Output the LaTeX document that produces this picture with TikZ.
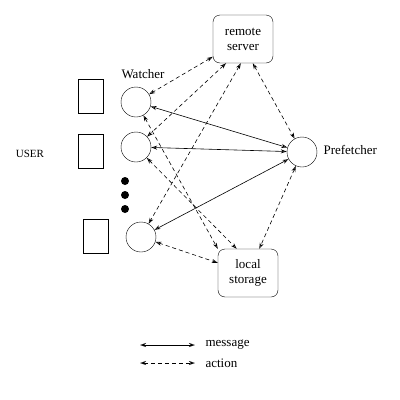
\documentclass[tikz,border=0pt]{standalone}
\usepackage{fontspec}
\setmainfont{Liberation Serif}
\usetikzlibrary{arrows.meta}

\begin{document}
\begin{tikzpicture}[x=1pt,y=-1pt,
        font=\fontsize{13}{15}\selectfont,
        msg/.style={{Stealth[length=6pt,width=4pt,open]}-{Stealth[length=6pt,width=4pt,open]}, semithick},
        act/.style={msg, dash pattern=on 4pt off 3pt},
        store/.style={draw, rounded corners=7pt, minimum width=60pt, minimum height=48pt,
                      align=center, inner sep=0pt},
        proc/.style={draw, circle, minimum size=30pt, inner sep=0pt},
        term/.style={draw, minimum width=25pt, minimum height=34pt, inner sep=0pt},
        bullet/.style={fill, circle, minimum size=8pt, inner sep=0pt},
        note/.style={anchor=west}
    ]
        \useasboundingbox (0,0) rectangle (400,400);

        \node[store] (remote) at (243,39) {remote\\server};
        \node[store] (local) at (248,273) {local\\storage};

        \node[proc] (watchA) at (136,102) {};
        \node[proc] (watchB) at (136,147) {};
        \node[proc] (watchC) at (141,237) {};
        \node[proc] (prefetch) at (302,152) {};

        \node[term] (userA) at (90.5,96) {};
        \node[term] (userB) at (90.5,151.5) {};
        \node[term] (userC) at (95.5,236) {};

        \node[bullet] (dotA) at (125,181) {};
        \node[bullet] (dotB) at (125,195) {};
        \node[bullet] (dotC) at (125,209) {};

        \node (watchlbl) at (143,74) {Watcher};
        \node[note] (prefetchlbl) at (320,150) {Prefetcher};
        \node[font=\fontsize{11}{13}\selectfont] (userlbl) at (30,154) {USER};

        % messages
        \draw[msg] (watchA) -- (prefetch);
        \draw[msg] (watchB) -- (prefetch);
        \draw[msg] (watchC) -- (prefetch);

        % actions
        \draw[act] (remote) -- (watchA);
        \draw[act] (remote.-125) -- (watchB);
        \draw[act] (remote.-95) -- (watchC);
        \draw[act] (remote.-68) -- (prefetch);
        \draw[act] (watchA) -- (local.north west);
        \draw[act] (watchB) -- (local.115);
        \draw[act] (watchC) -- (local);
        \draw[act] (prefetch) -- (local.65);

        % legend
        \coordinate (msgL) at (140,345);
        \coordinate (msgR) at (195,345);
        \coordinate (actL) at (140,363);
        \coordinate (actR) at (195,363);
        \draw[msg] (msgL) -- (msgR);
        \draw[act] (actL) -- (actR);
        \node[note] (msglbl) at (202,345) {message};
        \node[note] (actlbl) at (202,363) {action};
    \end{tikzpicture}
\end{document}
